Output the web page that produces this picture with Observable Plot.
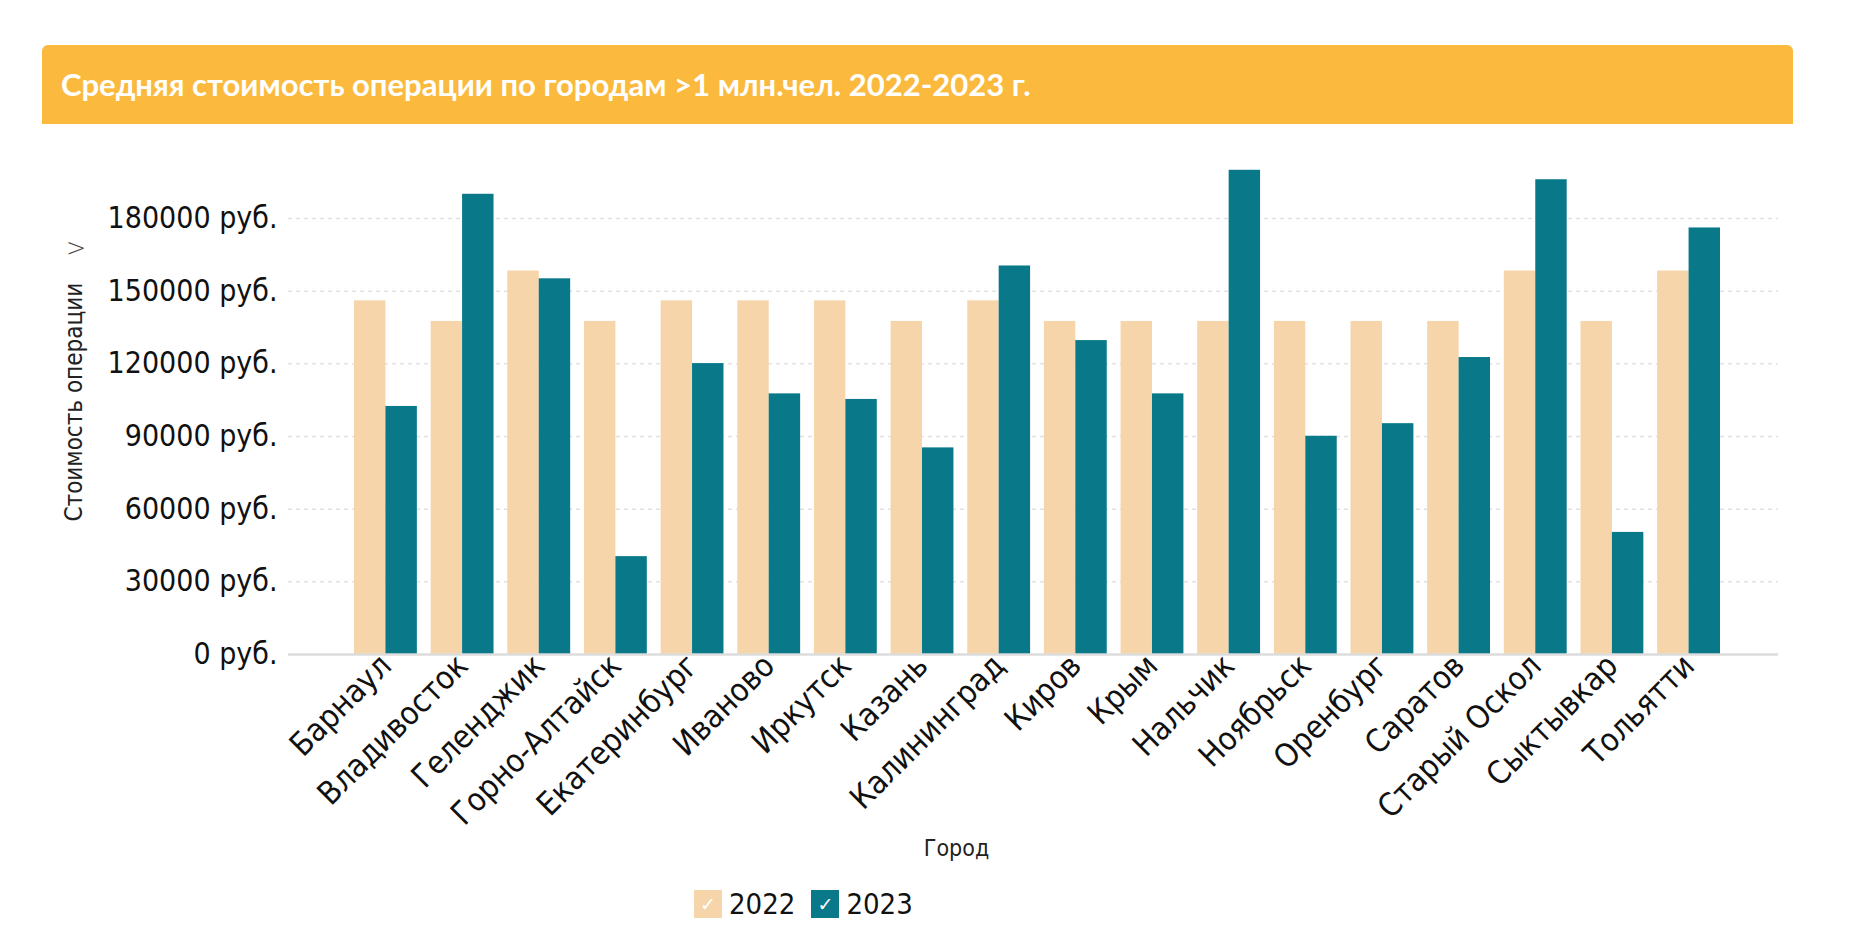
<!DOCTYPE html>
<html>
<head>
<meta charset="utf-8">
<script src="https://cdn.jsdelivr.net/npm/d3@7"></script>
<script src="https://cdn.jsdelivr.net/npm/@observablehq/plot@0.6"></script>
<style>
  html, body { margin: 0; padding: 0; background: #fff; }
  body { width: 1855px; height: 943px; overflow: hidden; position: relative; font-family: "DejaVu Sans Condensed", "DejaVu Sans", sans-serif; }
  #banner { position: absolute; left: 42px; top: 45px; width: 1751px; height: 79px; background: #FBBA3D; border-radius: 6px 6px 0 0; }
  #title { position: absolute; left: 19px; top: 0; height: 79px; line-height: 79px; color: #fff; font-family: "Lato", "Open Sans", sans-serif; font-weight: 700; font-size: 28px; white-space: nowrap; }
  #chart { position: absolute; left: 0; top: 124px; }
  #chev { position: absolute; left: 66px; top: 236px; font-family: "DejaVu Sans", sans-serif; font-weight: 200; font-size: 24px; line-height: 24px; color: #444; }
  #legend { position: absolute; left: 694px; top: 887px; display: flex; align-items: center; font-family: "DejaVu Sans Condensed", "DejaVu Sans", sans-serif; font-size: 29px; color: #111; }
  .sw { width: 28px; height: 28px; display: inline-flex; align-items: center; justify-content: center; color: #fff; font-size: 19px; font-family: "DejaVu Sans", sans-serif; }
  .lab { margin-left: 7px; margin-right: 16px; }
</style>
</head>
<body>
<div id="banner"><div id="title">Средняя стоимость операции по городам &gt;1 млн.чел. 2022-2023 г.</div></div>
<div id="chart"></div>
<div id="chev">&gt;</div>
<div id="legend"></div>
<script>
const cities = ["Барнаул", "Владивосток", "Геленджик", "Горно-Алтайск", "Екатеринбург", "Иваново", "Иркутск", "Казань", "Калининград", "Киров", "Крым", "Нальчик", "Ноябрьск", "Оренбург", "Саратов", "Старый Оскол", "Сыктывкар", "Тольятти"];
const years = ["2022", "2023"];
const values2022 = [146000, 137500, 158300, 137500, 146000, 146000, 146000, 137500, 146000, 137500, 137500, 137500, 137500, 137500, 137500, 158300, 137500, 158300];
const values2023 = [102400, 190000, 155100, 40400, 120100, 107600, 105300, 85300, 160400, 129600, 107600, 199900, 90100, 95300, 122600, 196000, 50400, 176100];
const yTicks = [0, 30000, 60000, 90000, 120000, 150000, 180000];
const gridTicks = [30000, 60000, 90000, 120000, 150000, 180000];
const colors = ["#F6D5AA", "#09798A"];
const yTitle = "Стоимость операции";
const xTitle = "Город";

const data = cities.map((c, i) => ({city: c, v2022: values2022[i], v2023: values2023[i]}));

// layout constants
const W = 1855, H = 760;
const xRange = [340.2, 1733.8];
const pad = 0.18;
const step = (xRange[1] - xRange[0]) / (cities.length - pad + 2 * pad);
const bw = step * (1 - pad);
const half = bw / 2;
const font = "'DejaVu Sans Condensed', 'DejaVu Sans', sans-serif";

const chart = Plot.plot({
  width: W,
  height: H,
  marginLeft: 288,
  marginRight: 77,
  marginTop: 21.33,
  marginBottom: 230,
  style: {fontFamily: font, color: "#000", background: "transparent", overflow: "visible"},
  x: {domain: cities, range: xRange, padding: pad, round: false, axis: null},
  y: {domain: [0, 210000], axis: null},
  marks: [
    Plot.ruleY(gridTicks, {stroke: "#e2e2e2", strokeWidth: 1.5, strokeDasharray: "4,4"}),
    Plot.barY(data, {x: "city", y: "v2022", fill: colors[0], insetRight: half}),
    Plot.barY(data, {x: "city", y: "v2023", fill: colors[1], insetLeft: half}),
    Plot.ruleY([0], {stroke: "#dcdcdc", strokeWidth: 2.5}),
    Plot.axisY({ticks: yTicks, tickFormat: d => `${d} руб.`, tickSize: 0, tickPadding: 11, fontSize: 30, label: null, fill: "#111"}),
    Plot.axisX({tickRotate: -45, tickSize: 0, tickPadding: 6, fontSize: 32, label: null, fill: "#111"}),
    Plot.text([yTitle], {frameAnchor: "left", textAnchor: "middle", dx: -214, dy: 2, rotate: -90, fontSize: 24, fill: "#222", text: d => d}),
    Plot.text([xTitle], {frameAnchor: "bottom", dx: -77, dy: 201, fontSize: 23, fill: "#222", text: d => d})
  ]
});
document.getElementById("chart").appendChild(chart);

// legend
const legend = document.getElementById("legend");
years.forEach((y, i) => {
  const sw = document.createElement("span");
  sw.className = "sw";
  sw.style.background = colors[i];
  sw.textContent = "✓";
  const lab = document.createElement("span");
  lab.className = "lab";
  lab.textContent = y;
  legend.appendChild(sw);
  legend.appendChild(lab);
});

// fit title width to reference (~970px)
const t = document.getElementById("title");
const w = t.getBoundingClientRect().width;
t.style.fontSize = (28 * 970 / w).toFixed(2) + "px";
</script>
</body>
</html>
